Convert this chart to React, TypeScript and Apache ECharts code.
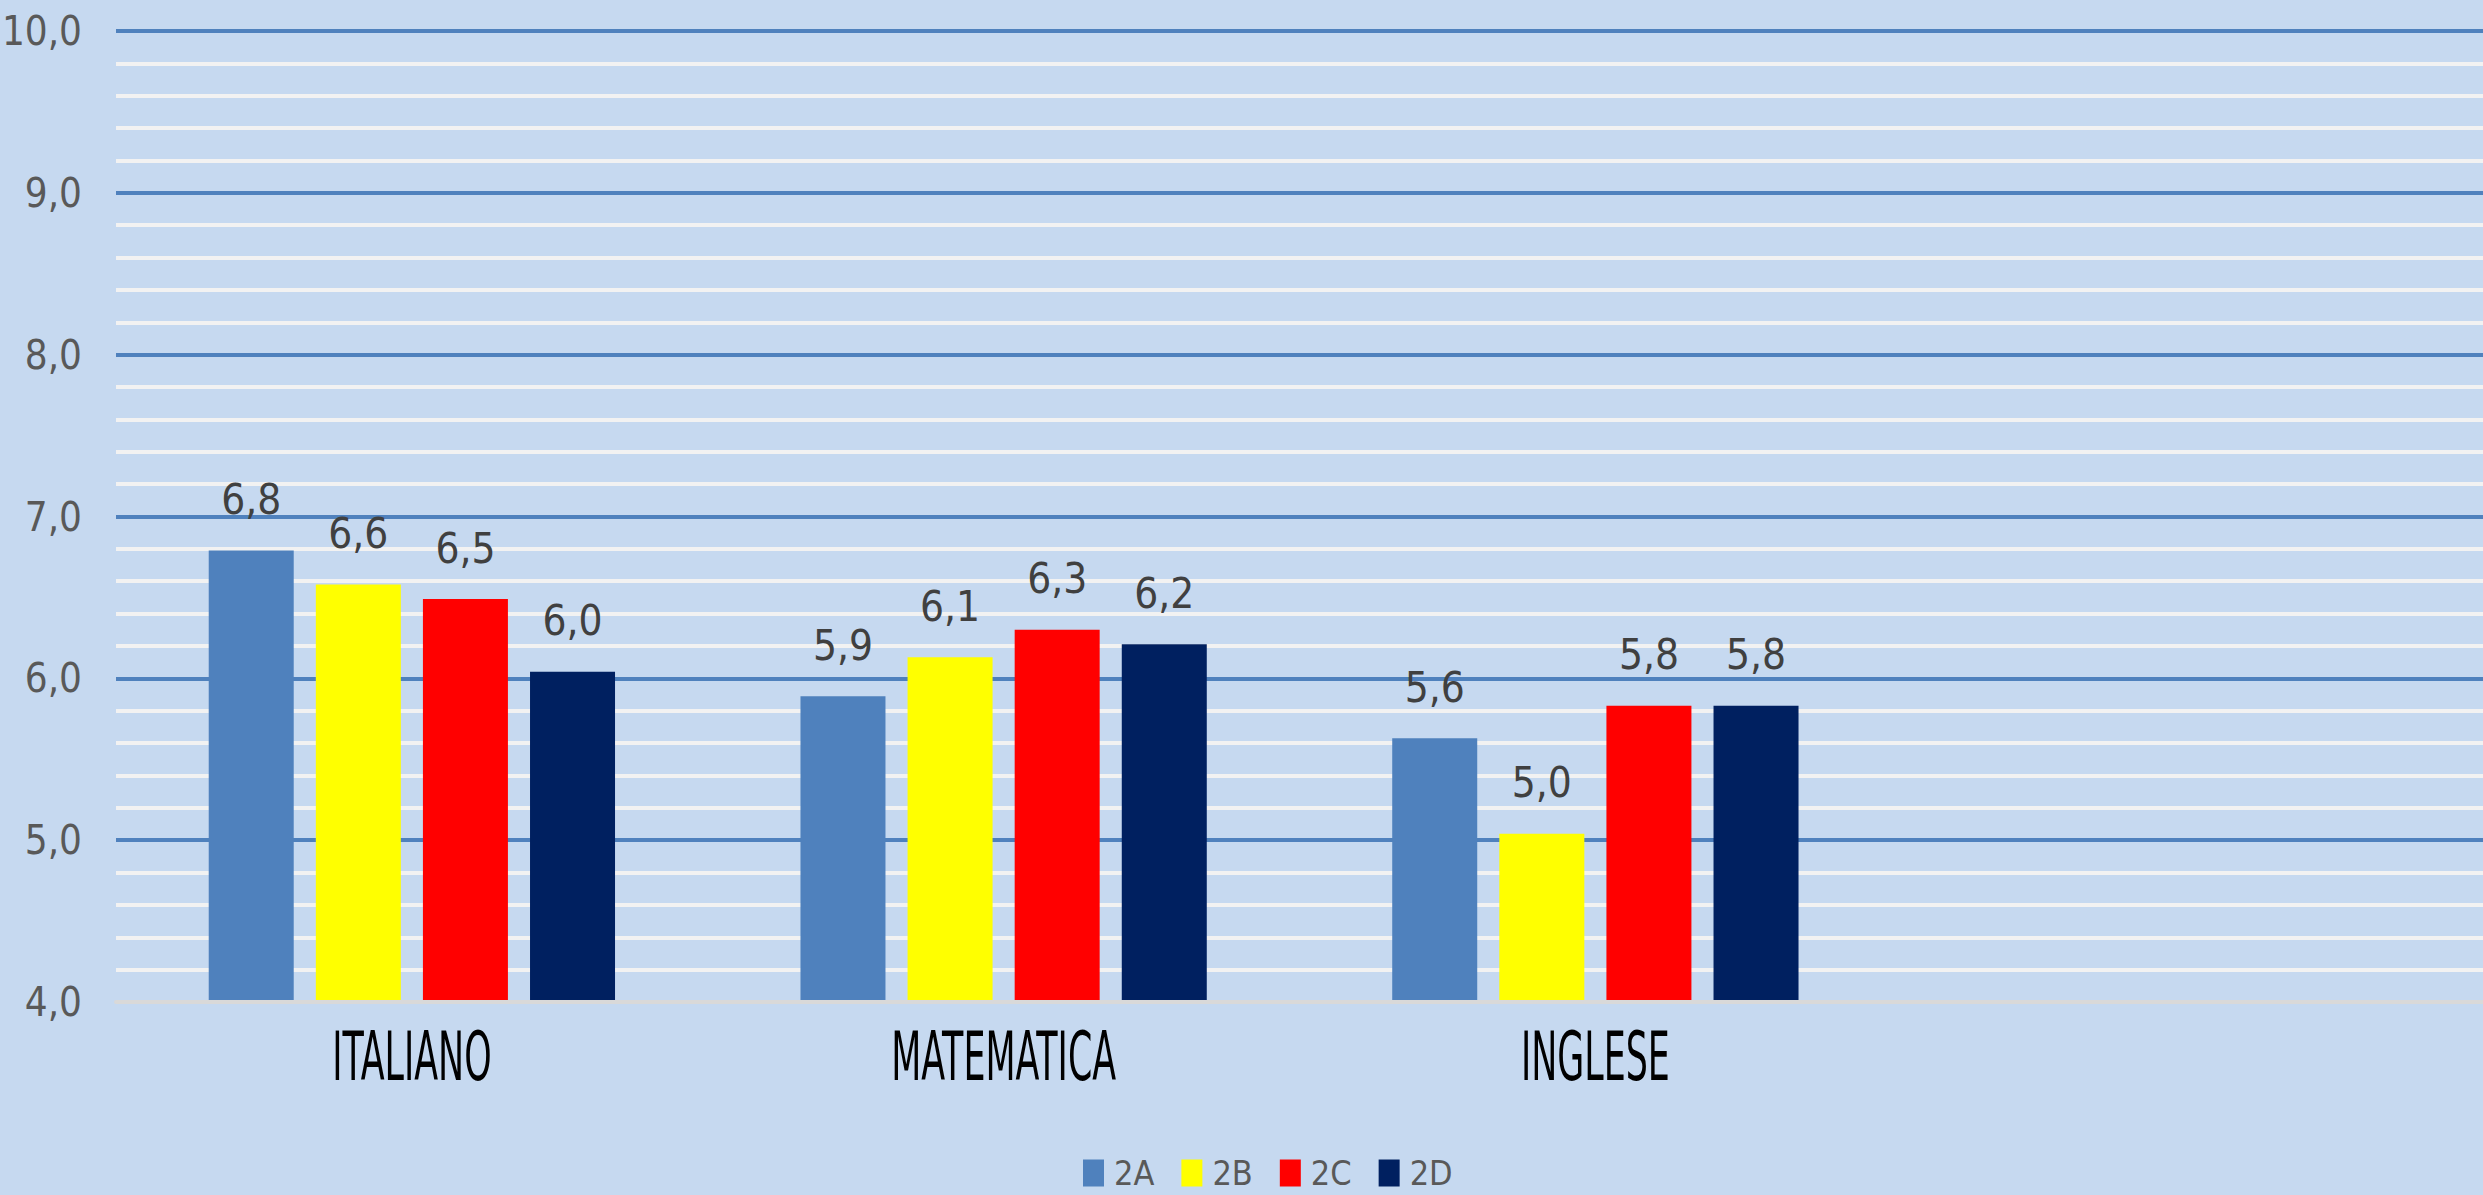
import React, { useEffect, useRef } from "react";
import * as echarts from "echarts";

const categories = ["ITALIANO", "MATEMATICA", "INGLESE", ""];
const seriesNames = ["2A", "2B", "2C", "2D"];
const values2A = [6.79, 5.89, 5.63];
const values2B = [6.58, 6.13, 5.04];
const values2C = [6.49, 6.3, 5.83];
const values2D = [6.04, 6.21, 5.83];
const seriesColors = ["#4f81bd", "#ffff00", "#ff0000", "#002060"];
const yMin = 4;
const yMax = 10;
const yInterval = 1;

const NARROW = '"Liberation Sans Narrow", "DejaVu Sans Condensed", "Roboto Condensed", sans-serif';
const fmt = (v: number) => v.toFixed(1).replace(".", ",");

export default function App() {
  const ref = useRef<HTMLDivElement>(null);
  useEffect(() => {
    document.body.style.margin = "0";
    const chart = echarts.init(ref.current!, undefined, { renderer: "svg" });
    const allValues = [values2A, values2B, values2C, values2D];
    const option: any = {
      animation: false,
      backgroundColor: "#c6d9f0",
      grid: {
        left: 116,
        right: 0,
        top: 31,
        bottom: 193,
        containLabel: false,
        outerBoundsMode: "none",
      },
      legend: {
        data: seriesNames,
        left: 1083,
        top: 1156,
        padding: 0,
        icon: "rect",
        itemWidth: 21,
        itemHeight: 27,
        itemGap: 27,
        textStyle: { fontSize: 34, color: "#595959", fontFamily: NARROW, padding: [0, 0, 0, 5] },
      },
      xAxis: {
        type: "category",
        data: categories,
        z: 5,
        axisLine: { show: true, lineStyle: { color: "#d9d9d9", width: 4 } },
        axisTick: { show: false },
        axisLabel: { show: false },
      },
      yAxis: {
        type: "value",
        min: yMin,
        max: yMax,
        interval: yInterval,
        axisLine: { show: false },
        axisTick: { show: false },
        axisLabel: {
          formatter: (v: number) => fmt(v),
          fontSize: 40,
          color: "#595959",
          fontFamily: NARROW,
          margin: 34,
        },
        splitLine: { show: true, lineStyle: { color: "#4f81bd", width: 4 } },
        minorTick: { show: false, splitNumber: 5 },
        minorSplitLine: { show: true, lineStyle: { color: "#f2f2f2", width: 4 } },
      },
      series: seriesNames.map((name, i) => ({
        name,
        type: "bar",
        data: allValues[i],
        barWidth: 85,
        barGap: "26%",
        itemStyle: { color: seriesColors[i] },
        label: {
          show: true,
          position: "top",
          distance: 30,
          formatter: (p: any) => fmt(p.value),
          fontSize: 42,
          color: "#404040",
          fontFamily: NARROW,
        },
      })),
    };
    chart.setOption(option);
    const graphic = categories
      .filter((c) => c !== "")
      .map((c) => {
        const x = chart.convertToPixel({ xAxisIndex: 0 }, c) as number;
        return {
          type: "text",
          x,
          y: 1057,
          scaleX: 0.57,
          style: {
            text: c,
            fontSize: 68,
            fontFamily: NARROW,
            fill: "#000000",
            textAlign: "center",
            textVerticalAlign: "middle",
          },
        };
      });
    chart.setOption({ graphic });
    return () => chart.dispose();
  }, []);
  return <div ref={ref} style={{ width: 2483, height: 1195 }} />;
}
